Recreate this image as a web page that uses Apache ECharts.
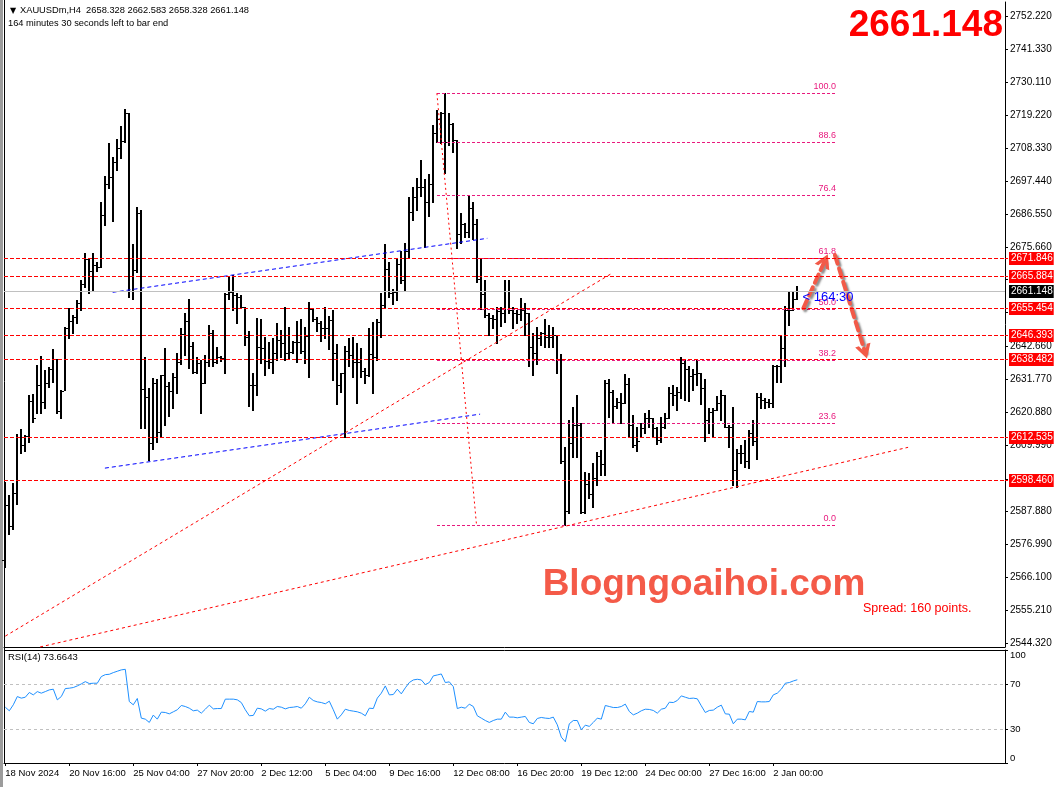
<!DOCTYPE html>
<html><head><meta charset="utf-8">
<script src="https://cdn.jsdelivr.net/npm/echarts@6.0.0/dist/echarts.min.js"></script>
<style>html,body{margin:0;padding:0;background:#fff}#c{width:1059px;height:787px}</style>
</head><body><div id="c"></div>
<script>
const symbolName = 'XAUUSDm,H4';
const countdownText = '164 minutes 30 seconds left to bar end';
const countdownShort = '< 164:30';
const spreadText = 'Spread: 160 points.';
const watermark = 'Blogngoaihoi.com';

const xTickIdx = [0,16,32,48,64,80,96,112,128,144,160,176,192];
const xTickLabels = ['18 Nov 2024','20 Nov 16:00','25 Nov 04:00','27 Nov 20:00','2 Dec 12:00','5 Dec 04:00','9 Dec 16:00','12 Dec 08:00','16 Dec 20:00','19 Dec 12:00','24 Dec 00:00','27 Dec 16:00','2 Jan 00:00'];
const priceTicks = [2752.22,2741.33,2730.11,2719.22,2708.33,2697.44,2686.55,2675.66,2664.77,2653.88,2642.66,2631.77,2620.88,2609.99,2598.77,2587.88,2576.99,2566.10,2555.21,2544.32];
const rsiTicks = [0,30,70,100];
const rsiLevels = [70,30];

const opens = [
2572.0,2590.1,2583.1,2594.2,2612.7,2609.9,2613.0,2624.6,2619.0,2629.9,
2624.3,2630.6,2635.1,2638.4,2621.4,2628.0,2648.7,2651.2,2652.3,2657.2,
2663.4,2671.5,2667.7,2669.7,2669.1,2686.2,2696.5,2698.7,2703.9,2708.3,
2710.9,2719.9,2672.1,2668.0,2686.8,2628.4,2625.8,2610.5,2630.4,2614.4,
2633.2,2629.5,2628.0,2632.6,2637.6,2646.8,2651.2,2642.8,2634.3,2637.3,
2630.4,2637.6,2647.0,2637.6,2639.3,2638.7,2659.9,2660.8,2659.7,2659.2,
2655.6,2645.9,2629.9,2629.9,2642.6,2642.0,2637.9,2637.6,2640.6,2644.8,
2643.7,2640.4,2640.9,2644.2,2644.2,2641.3,2646.1,2655.0,2651.6,2650.3,
2648.7,2648.7,2651.4,2640.4,2629.9,2633.7,2641.3,2639.8,2637.6,2637.6,
2634.6,2633.2,2640.2,2639.0,2650.9,2656.4,2668.2,2660.3,2660.8,2670.0,
2664.7,2674.4,2687.3,2692.1,2695.6,2695.6,2690.7,2696.5,2713.3,2718.0,
2719.9,2710.6,2716.4,2711.1,2679.9,2683.3,2680.7,2688.4,2683.3,2664.9,
2660.0,2653.1,2652.0,2651.6,2654.5,2653.6,2661.0,2654.7,2653.6,2653.3,
2654.7,2653.6,2642.6,2640.4,2645.3,2647.0,2645.9,2645.9,2646.5,2638.2,
2604.5,2588.2,2610.5,2616.6,2616.6,2587.9,2597.0,2593.7,2598.9,2606.3,
2603.7,2630.6,2627.7,2622.9,2624.3,2624.0,2630.2,2616.6,2610.0,2611.4,
2615.5,2618.8,2618.8,2615.5,2611.6,2616.1,2618.8,2627.1,2626.6,2627.7,
2637.1,2635.1,2632.9,2633.5,2634.0,2628.8,2618.3,2621.0,2621.6,2624.0,
2626.6,2616.1,2616.1,2601.7,2607.2,2607.2,2604.5,2614.1,2611.4,2625.8,
2624.9,2624.3,2623.8,2636.0,2636.0,2642.0,2654.7,2654.7,2658.328];

const highs = [
2597.8,2593.4,2597.3,2613.6,2615.2,2613.3,2626.6,2626.9,2636.5,2639.5,
2634.8,2635.7,2641.7,2638.4,2628.2,2649.2,2655.3,2653.1,2658.1,2664.7,
2673.7,2671.5,2673.7,2670.8,2690.7,2699.0,2710.2,2705.4,2711.3,2715.7,
2721.3,2719.9,2676.6,2689.0,2687.9,2639.3,2628.8,2632.1,2631.8,2633.2,
2642.0,2631.0,2634.0,2640.4,2648.7,2653.9,2658.3,2644.2,2639.0,2638.2,
2639.8,2649.8,2648.1,2642.6,2639.5,2660.3,2666.0,2666.3,2660.3,2659.7,
2655.6,2647.9,2633.7,2652.0,2651.6,2645.9,2644.2,2645.3,2650.3,2648.1,
2655.6,2649.2,2644.6,2651.2,2651.6,2649.2,2657.5,2655.0,2652.3,2651.2,
2655.8,2652.8,2654.7,2643.5,2634.0,2642.8,2645.3,2645.9,2643.7,2642.0,
2635.4,2648.7,2650.9,2651.6,2660.3,2676.6,2670.8,2661.6,2671.9,2674.4,
2676.8,2692.1,2695.4,2698.4,2704.5,2698.1,2699.8,2716.1,2721.1,2720.5,
2726.6,2720.2,2716.9,2711.1,2687.0,2683.7,2692.9,2690.7,2684.8,2671.5,
2664.7,2653.6,2653.1,2655.6,2655.8,2664.7,2664.7,2655.8,2654.7,2658.6,
2657.0,2653.6,2647.0,2649.2,2647.6,2651.6,2649.8,2649.2,2646.5,2640.2,
2609.4,2618.3,2622.7,2626.6,2617.2,2601.1,2600.8,2603.9,2607.8,2608.3,
2631.5,2631.8,2628.2,2625.5,2627.1,2633.5,2632.1,2619.9,2616.1,2617.2,
2620.5,2621.6,2618.8,2616.1,2619.4,2620.5,2629.3,2629.9,2629.3,2639.3,
2638.2,2636.2,2635.1,2638.0,2634.0,2631.8,2622.1,2622.1,2626.2,2628.2,
2626.6,2616.6,2622.5,2608.5,2610.0,2611.6,2615.0,2618.3,2627.1,2627.1,
2625.5,2625.1,2636.5,2636.5,2646.5,2656.1,2660.8,2660.7,2662.583];

const lows = [
2569.6,2580.5,2582.0,2590.3,2607.2,2608.1,2611.1,2617.7,2620.5,2620.7,
2622.1,2629.3,2631.0,2620.7,2618.8,2628.2,2645.3,2647.0,2650.3,2654.7,
2662.5,2660.3,2661.2,2667.8,2668.9,2682.8,2695.1,2684.4,2701.2,2705.0,
2710.6,2659.2,2658.3,2667.4,2615.5,2615.5,2605.0,2608.5,2610.8,2612.7,
2616.6,2619.6,2622.1,2627.1,2636.8,2639.8,2635.4,2633.7,2633.7,2620.7,
2630.4,2636.0,2636.2,2637.1,2637.9,2634.0,2658.3,2654.7,2650.5,2655.3,
2643.1,2622.9,2621.6,2626.6,2637.1,2633.2,2635.4,2634.0,2638.2,2639.0,
2638.2,2638.4,2640.6,2637.6,2640.4,2637.3,2632.4,2651.2,2647.9,2644.6,
2645.3,2641.7,2631.5,2623.6,2627.7,2612.7,2636.0,2632.4,2624.0,2632.4,
2630.6,2633.0,2627.3,2638.2,2645.9,2655.3,2658.9,2656.7,2658.1,2663.6,
2661.2,2671.9,2684.6,2687.9,2692.5,2675.5,2685.9,2690.7,2710.6,2710.0,
2700.3,2709.4,2707.2,2675.2,2676.8,2678.8,2679.1,2678.2,2664.1,2655.0,
2652.3,2646.5,2648.7,2643.7,2649.4,2650.9,2653.6,2648.7,2650.3,2651.4,
2646.5,2636.0,2633.2,2636.8,2643.1,2642.6,2642.6,2642.6,2633.7,2603.9,
2583.5,2587.3,2606.1,2606.1,2587.3,2587.3,2592.3,2589.5,2596.7,2600.0,
2600.0,2619.4,2617.7,2622.1,2617.2,2623.8,2612.7,2609.4,2608.1,2612.7,
2613.8,2616.1,2612.7,2610.3,2611.1,2615.5,2618.8,2623.2,2621.6,2625.5,
2624.9,2624.7,2628.2,2629.9,2623.6,2611.4,2613.8,2612.5,2621.6,2618.3,
2615.8,2609.2,2596.7,2595.9,2604.1,2602.6,2602.2,2610.0,2605.2,2622.1,
2622.1,2622.5,2622.7,2631.0,2631.0,2636.0,2649.8,2654.7,2658.328];

const closes = [
2590.1,2583.1,2594.2,2612.7,2609.9,2613.0,2624.6,2619.0,2629.9,2624.3,
2630.6,2635.1,2638.4,2621.4,2628.0,2648.7,2651.2,2652.3,2657.2,2663.4,
2671.5,2667.7,2669.7,2669.1,2686.2,2696.5,2698.7,2703.9,2708.3,2710.9,
2719.9,2672.1,2668.0,2686.8,2628.4,2625.8,2610.5,2630.4,2614.4,2633.2,
2629.5,2628.0,2632.6,2637.6,2646.8,2651.2,2642.8,2634.3,2637.3,2630.4,
2637.6,2647.0,2637.6,2639.3,2638.7,2659.9,2660.8,2659.7,2659.2,2655.6,
2645.9,2629.9,2629.9,2642.6,2642.0,2637.9,2637.6,2640.6,2644.8,2643.7,
2640.4,2640.9,2644.2,2644.2,2641.3,2646.1,2655.0,2651.6,2650.3,2648.7,
2648.7,2651.4,2640.4,2629.9,2633.7,2641.3,2639.8,2637.6,2637.6,2634.6,
2633.2,2640.2,2639.0,2650.9,2656.4,2668.2,2660.3,2660.8,2670.0,2664.7,
2674.4,2687.3,2692.1,2695.6,2695.6,2690.7,2696.5,2713.3,2718.0,2719.9,
2710.6,2716.4,2711.1,2679.9,2683.3,2680.7,2688.4,2683.3,2664.9,2660.0,
2653.1,2652.0,2651.6,2654.5,2653.6,2661.0,2654.7,2653.6,2653.3,2654.7,
2653.6,2642.6,2640.4,2645.3,2647.0,2645.9,2645.9,2646.5,2638.2,2604.5,
2588.2,2610.5,2616.6,2616.6,2587.9,2597.0,2593.7,2598.9,2606.3,2603.7,
2630.6,2627.7,2622.9,2624.3,2624.0,2630.2,2616.6,2610.0,2611.4,2615.5,
2618.8,2618.8,2615.5,2611.6,2616.1,2618.8,2627.1,2626.6,2627.7,2637.1,
2635.1,2632.9,2633.5,2634.0,2628.8,2618.3,2621.0,2621.6,2624.0,2626.6,
2616.1,2616.1,2601.7,2607.2,2607.2,2604.5,2614.1,2611.4,2625.8,2624.9,
2624.3,2623.8,2636.0,2636.0,2642.0,2654.7,2654.7,2658.328,2661.148];

const rsi = [
49.4,46.2,51.5,58.8,57.4,58.2,62.4,60.3,63.2,61.8,
63.2,64.7,65.3,55.9,58.8,65.9,66.2,66.8,68.2,70.0,
72.0,70.3,70.6,70.6,76.5,78.2,78.5,80.0,81.2,82.4,
82.9,54.4,51.5,57.1,39.7,38.8,35.9,42.4,38.8,45.0,
44.7,43.5,45.3,47.1,50.9,50.0,48.5,46.2,46.8,44.1,
47.6,51.2,47.9,48.2,48.2,56.5,56.5,56.5,55.9,53.5,
47.1,41.8,42.1,48.5,47.9,45.9,48.2,47.6,50.0,49.4,
47.9,49.1,49.4,50.0,48.5,52.4,58.2,55.3,54.1,53.5,
52.4,54.7,47.1,38.8,42.6,47.6,46.5,45.9,45.3,44.1,
41.8,48.5,48.2,57.4,61.8,68.2,60.3,60.6,65.3,61.2,
66.5,71.2,73.5,74.1,73.5,69.4,71.2,77.1,77.9,78.8,
71.2,71.8,67.6,48.2,49.4,48.5,52.1,50.0,41.8,39.7,
37.6,35.9,37.6,38.8,38.8,45.0,40.6,40.6,40.0,40.6,
41.2,35.9,34.7,39.4,40.3,39.7,39.4,40.6,33.8,22.9,
18.8,34.7,37.6,37.6,29.4,33.5,32.4,35.9,39.7,38.8,
50.9,50.0,49.1,49.1,50.0,52.1,45.6,42.6,44.1,46.2,
47.6,47.4,46.5,44.1,47.6,48.5,53.8,53.5,55.3,59.4,
58.2,57.1,57.4,56.8,50.6,44.7,46.5,46.8,49.4,51.2,
43.5,43.2,34.7,38.8,38.8,38.2,45.6,45.0,54.4,54.1,
54.1,54.4,60.3,61.8,65.3,70.6,71.2,72.6,73.6643];

const levels = [2671.846,2665.884,2655.454,2646.393,2638.482,2612.535,2598.460];
const fibHigh = 2726.6, fibLow = 2583.5;
const fibRatios = [100,88.6,76.4,61.8,50,38.2,23.6,0];
const fibSpan = [107.9, 207.7];
const fibDiag = [[107.9,2726.6],[117.8,2583.5]];
const blueLines = [[[26.85,2660.6],[120.5,2678.5]], [[24.9,2602.3],[118.7,2620.2]]];
const redTrends = [[[0,2546.6],[151.9,2667.1]], [[8.7,2543.0],[225.7,2609.2]]];
const arrows = [[[199.5,2655.3],[204.9,2671.1]], [[207.4,2672.95],[214.9,2640.9]]];
const countdownAt = [199.2, 2659.0];

const FONT = 'Liberation Sans, Arial, sans-serif';
const PINK = '#e8197d';
const n = closes.length;
const lastIdx = n - 1;
const ohlcData = closes.map((c, i) => [i, opens[i], highs[i], lows[i], c]);
const rsiData = rsi.map((v, i) => [i, v]);
const X_MIN = -0.325, X_MAX = 249.925;

function renderOHLC(params, api) {
  const i = api.value(0);
  const o = api.coord([i, api.value(1)]);
  const h = api.coord([i, api.value(2)]);
  const l = api.coord([i, api.value(3)]);
  const c = api.coord([i, api.value(4)]);
  const x = Math.round(h[0]);
  const yh = Math.round(h[1]), yl = Math.round(l[1]);
  return {type: 'group', children: [
    {type: 'rect', shape: {x: x - 1, y: yh, width: 2, height: Math.max(1, yl - yh + 1)}, style: {fill: '#000'}},
    {type: 'rect', shape: {x: x - 3, y: Math.round(o[1]), width: 2, height: 1}, style: {fill: '#000'}},
    {type: 'rect', shape: {x: x + 1, y: Math.round(c[1]), width: 2, height: 1}, style: {fill: '#000'}}
  ]};
}

// horizontal level: data [0, price, kind] kind 0 = red level, 1 = last price
function renderLevel(params, api) {
  const cs = params.coordSys;
  const v = api.value(1);
  const kind = api.value(2);
  const y = Math.round(api.coord([0, v])[1]) + 0.5;
  const x1 = cs.x, x2 = cs.x + cs.width;
  const isLast = kind === 1;
  return {type: 'group', children: [
    {type: 'line', shape: {x1: x1, y1: y, x2: x2, y2: y},
     style: {stroke: isLast ? '#c0c0c0' : '#ff0000', lineWidth: 1, lineDash: isLast ? null : [4, 2]}},
    isLast ? {type: 'group', children: []} :
      {type: 'line', shape: {x1: x2, y1: y, x2: x2 + 3, y2: y}, style: {stroke: '#ff0000', lineWidth: 1}},
    {type: 'text', x: x2 + 4, y: y, z2: 10,
     style: {text: v.toFixed(3), fill: '#fff', backgroundColor: isLast ? '#000' : '#ff0000', padding: [2, 1, 1, 2],
             fontSize: 10, fontFamily: FONT, verticalAlign: 'middle', align: 'left'}}
  ]};
}

// fib level: data [startIdx, price, endIdx, ratio]
function renderFib(params, api) {
  const a = api.coord([api.value(0), api.value(1)]);
  const b = api.coord([api.value(2), api.value(1)]);
  const y = Math.round(a[1]) + 0.5;
  return {type: 'group', children: [
    {type: 'line', shape: {x1: Math.round(a[0]), y1: y, x2: Math.round(b[0]), y2: y},
     style: {stroke: PINK, lineWidth: 1, lineDash: [3, 2]}},
    {type: 'text', x: Math.round(b[0]), y: y - 2,
     style: {text: api.value(3).toFixed(1), fill: PINK, fontSize: 9, fontFamily: FONT, align: 'right', verticalAlign: 'bottom'}}
  ]};
}

function renderRsiLevel(params, api) {
  const cs = params.coordSys;
  const y = Math.round(api.coord([0, api.value(1)])[1]) + 0.5;
  return {type: 'line', shape: {x1: cs.x, y1: y, x2: cs.x + cs.width, y2: y},
          style: {stroke: '#c0c0c0', lineWidth: 1, lineDash: [3, 3]}};
}

const levelData = levels.map(v => [0, v, 0]).concat([[0, closes[lastIdx], 1]]);
const fibData = fibRatios.map(r => [fibSpan[0], fibLow + (fibHigh - fibLow) * r / 100, fibSpan[1], r]);
const rsiLevelData = rsiLevels.map(v => [0, v]);

const trendLines = [];
trendLines.push([{coord: fibDiag[0], lineStyle: {color: '#ff0000', type: [2, 3], width: 1}, label: {show: false}}, {coord: fibDiag[1]}]);
blueLines.forEach(s => trendLines.push([{coord: s[0], lineStyle: {color: '#0000ff', type: [4, 3], width: 1}, label: {show: false}}, {coord: s[1]}]));
redTrends.forEach(s => trendLines.push([{coord: s[0], lineStyle: {color: '#ff0000', type: [3, 3], width: 1}, label: {show: false}}, {coord: s[1]}]));

const chevron = 'path://M0,10 L5,0 L10,10 L7.6,10 L5,4.6 L2.4,10 Z';
const arrowLines = arrows.map(s => [
  {coord: s[0], symbol: 'none', lineStyle: {color: '#f25a48', type: [9, 5], width: 4, cap: 'round',
     shadowColor: 'rgba(0,0,0,0.45)', shadowBlur: 2, shadowOffsetX: 2, shadowOffsetY: 2}, label: {show: false}},
  {coord: s[1], symbol: chevron, symbolSize: [16, 14]}
]);

const axisLineBlack = {show: true, onZero: false, lineStyle: {color: '#000'}};

const chart = echarts.init(document.getElementById('c'), null, {renderer: 'canvas'});
const option = {
  animation: false,
  backgroundColor: '#ffffff',
  grid: [
    {left: 4, right: 54, top: 2, height: 645, show: false},
    {left: 4, right: 54, top: 650, height: 113, show: false}
  ],
  xAxis: [
    {type: 'value', gridIndex: 0, min: X_MIN, max: X_MAX, axisLine: axisLineBlack,
     axisTick: {show: false}, axisLabel: {show: false}, splitLine: {show: false}},
    {type: 'value', gridIndex: 1, min: X_MIN, max: X_MAX, axisLine: axisLineBlack,
     axisTick: {show: true, customValues: xTickIdx, length: 3, lineStyle: {color: '#000'}},
     axisLabel: {show: true, customValues: xTickIdx, align: 'left', margin: 5, fontSize: 9.5, fontFamily: FONT, color: '#000',
       formatter: v => { const k = xTickIdx.indexOf(Math.round(v)); return k >= 0 ? xTickLabels[k] : ''; }},
     splitLine: {show: false}}
  ],
  yAxis: [
    {type: 'value', gridIndex: 0, position: 'right', min: 2542.99, max: 2756.86,
     axisLine: axisLineBlack,
     axisTick: {show: true, customValues: priceTicks, length: 3, lineStyle: {color: '#000'}},
     axisLabel: {show: true, customValues: priceTicks, margin: 5, fontSize: 10, fontFamily: FONT, color: '#000',
       formatter: v => v.toFixed(3)},
     splitLine: {show: false}},
    {type: 'value', gridIndex: 1, position: 'right', min: 0, max: 100,
     axisLine: axisLineBlack,
     axisTick: {show: true, customValues: rsiTicks, length: 3, lineStyle: {color: '#000'}},
     axisLabel: {show: true, customValues: rsiTicks, margin: 5, fontSize: 9.5, fontFamily: FONT, color: '#000',
       verticalAlignMaxLabel: 'top', verticalAlignMinLabel: 'bottom'},
     splitLine: {show: false}}
  ],
  series: [
    {type: 'custom', name: 'ohlc', xAxisIndex: 0, yAxisIndex: 0, data: ohlcData, renderItem: renderOHLC,
     dimensions: ['i', 'o', 'h', 'l', 'c'], encode: {x: 0, y: [1, 2, 3, 4]}, z: 3, silent: true},
    {type: 'custom', name: 'levels', xAxisIndex: 0, yAxisIndex: 0, data: levelData, renderItem: renderLevel,
     encode: {x: 0, y: 1}, clip: false, z: 5, silent: true},
    {type: 'custom', name: 'fibo', xAxisIndex: 0, yAxisIndex: 0, data: fibData, renderItem: renderFib,
     encode: {x: [0, 2], y: 1}, clip: false, z: 4, silent: true},
    {type: 'line', name: 'trends', xAxisIndex: 0, yAxisIndex: 0, data: [], z: 4,
     markLine: {silent: true, symbol: ['none', 'none'], animation: false, data: trendLines}},
    {type: 'line', name: 'arrows', xAxisIndex: 0, yAxisIndex: 0, data: [], z: 6,
     markLine: {silent: true, animation: false, data: arrowLines},
     markPoint: {silent: true, animation: false, data: [{coord: countdownAt, symbol: 'circle', symbolSize: 1,
       itemStyle: {color: 'rgba(0,0,0,0)'},
       label: {show: true, position: 'right', distance: 0, formatter: countdownShort, color: '#0000ff', fontSize: 13, fontFamily: FONT}}]}},
    {type: 'custom', name: 'rsiLevels', xAxisIndex: 1, yAxisIndex: 1, data: rsiLevelData, renderItem: renderRsiLevel,
     encode: {x: 0, y: 1}, z: 2, silent: true},
    {type: 'line', name: 'RSI', xAxisIndex: 1, yAxisIndex: 1, data: rsiData, showSymbol: false, symbol: 'none',
     lineStyle: {color: '#1e90ff', width: 1}, z: 3}
  ],
  graphic: [
    {type: 'rect', shape: {x: 0, y: 0, width: 3, height: 787}, style: {fill: '#9c9c9c'}, silent: true},
    {type: 'line', shape: {x1: 4.5, y1: 0, x2: 4.5, y2: 763}, style: {stroke: '#000', lineWidth: 1}, silent: true},
    {type: 'line', shape: {x1: 4, y1: 650.5, x2: 1005, y2: 650.5}, style: {stroke: '#000', lineWidth: 1}, silent: true},
    {type: 'text', x: 10, y: 10.5, style: {text: '\u25BC', fontSize: 8, fontFamily: 'DejaVu Sans', fill: '#000', verticalAlign: 'middle'}, silent: true},
    {type: 'text', x: 20, y: 10.5, style: {text: symbolName + '  ' + opens[lastIdx].toFixed(3) + ' ' + highs[lastIdx].toFixed(3) + ' ' + lows[lastIdx].toFixed(3) + ' ' + closes[lastIdx].toFixed(3),
      fontSize: 9.3, fontFamily: FONT, fill: '#000', verticalAlign: 'middle'}, silent: true},
    {type: 'text', x: 8, y: 23, style: {text: countdownText, fontSize: 9.3, fontFamily: FONT, fill: '#000', verticalAlign: 'middle'}, silent: true},
    {type: 'text', x: 8, y: 657.5, style: {text: 'RSI(14) ' + rsi[lastIdx].toFixed(4), fontSize: 9.5, fontFamily: FONT, fill: '#000', verticalAlign: 'middle'}, silent: true},
    {type: 'text', x: 1003, y: 26, style: {text: closes[lastIdx].toFixed(3), fontSize: 37, fontWeight: 'bold', fontFamily: FONT, fill: '#ff0000', align: 'right', verticalAlign: 'middle'}, silent: true},
    {type: 'text', x: 704, y: 585, z: 10, style: {text: watermark, fontSize: 37, fontWeight: 'bold', fontFamily: FONT, fill: '#f45a48', align: 'center', verticalAlign: 'middle',
      shadowColor: 'rgba(70,70,70,0.7)', shadowBlur: 2, shadowOffsetX: 2, shadowOffsetY: 3}, silent: true},
    {type: 'text', x: 863, y: 608.5, style: {text: spreadText, fontSize: 12.5, fontFamily: FONT, fill: '#ff0000', verticalAlign: 'middle'}, silent: true}
  ]
};
chart.setOption(option);
</script>
</body></html>
